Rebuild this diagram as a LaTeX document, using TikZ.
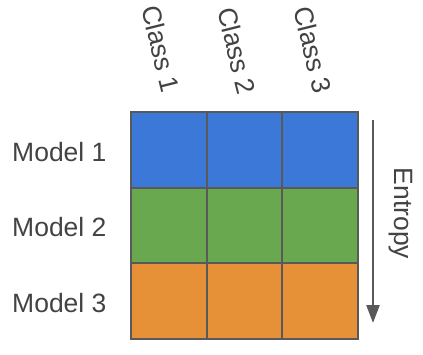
\documentclass[tikz,border=0pt]{standalone}
\usepackage{fontspec}
\setmainfont{Liberation Sans}
\usetikzlibrary{arrows.meta}
\definecolor{cblue}{HTML}{3C78D8}
\definecolor{cgreen}{HTML}{6AA84F}
\definecolor{corange}{HTML}{E69138}
\definecolor{edge}{HTML}{595959}
\definecolor{txt}{HTML}{434343}
\tikzset{
  cell/.style={draw=edge, line width=2pt, minimum width=75.67pt, minimum height=75.67pt, inner sep=0pt, outer sep=0pt},
  lbl/.style={text=txt, font=\fontsize{26.5}{30}\selectfont, inner sep=0pt},
  arr/.style={draw=edge, line width=2.5pt, -{Triangle[length=18pt,width=13pt]}}
}
\begin{document}
\begin{tikzpicture}[x=1pt,y=-1pt]
\useasboundingbox (0,0) rectangle (423,354);
% cells
\node[cell, fill=cblue]   (c11) at (168.8,149.8) {};
\node[cell, fill=cblue]   (c12) at (244.5,149.8) {};
\node[cell, fill=cblue]   (c13) at (320.2,149.8) {};
\node[cell, fill=cgreen]  (c21) at (168.8,225.5) {};
\node[cell, fill=cgreen]  (c22) at (244.5,225.5) {};
\node[cell, fill=cgreen]  (c23) at (320.2,225.5) {};
\node[cell, fill=corange] (c31) at (168.8,301.2) {};
\node[cell, fill=corange] (c32) at (244.5,301.2) {};
\node[cell, fill=corange] (c33) at (320.2,301.2) {};
% row labels
\node[lbl, anchor=base west] (m1) at (12,161) {Model 1};
\node[lbl, anchor=base west] (m2) at (12,236.5) {Model 2};
\node[lbl, anchor=base west] (m3) at (12,312) {Model 3};
% column labels
\node[lbl, rotate=-76] (k1) at (161,49) {Class 1};
\node[lbl, rotate=-76] (k2) at (237,51) {Class 2};
\node[lbl, rotate=-76] (k3) at (313,50) {Class 3};
% arrow
\coordinate (atop) at (373,120);
\coordinate (abot) at (373,323);
\draw[arr] (atop) -- (abot);
\node[lbl, rotate=-90] (ent) at (401,213.5) {Entropy};
\end{tikzpicture}
\end{document}
